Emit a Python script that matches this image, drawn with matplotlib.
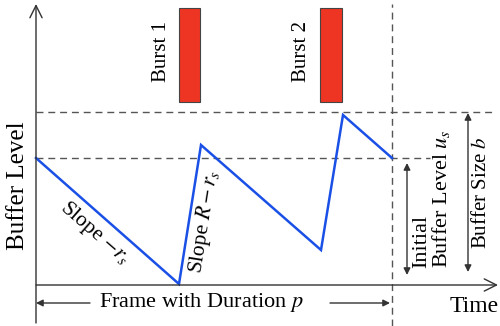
import matplotlib
matplotlib.use("Agg")
import matplotlib.pyplot as plt
from matplotlib.patches import Rectangle

plt.rcParams['font.family'] = ['Liberation Serif', 'DejaVu Serif']
plt.rcParams['mathtext.fontset'] = 'stix'

# buffer trajectory over one frame (time, buffer level)
times = [0, 143, 165, 285, 307, 356]
levels = [127, 1, 140, 35, 170, 127]

# burst intervals (start, end) and their drawn height range
bursts = [(143, 164), (284, 306)]
burst_labels = ["Burst 1", "Burst 2"]
burst_low, burst_high = 183, 277

u_s = 127     # initial buffer level
b = 173       # buffer size
p = 356       # frame duration

fig = plt.figure(figsize=(5.0, 3.26), dpi=100)
ax = fig.add_axes([0, 0, 1, 1])
ax.set_xlim(-36, 464)
ax.set_ylim(-41, 285)
ax.axis('off')

axis_col = '#333333'
dash_col = '#555555'

# axes with open arrow heads
ax.annotate('', xy=(0, 281), xytext=(0, -38),
            arrowprops=dict(arrowstyle='->', color=axis_col, lw=1.0,
                            mutation_scale=22, shrinkA=0, shrinkB=0))
ax.annotate('', xy=(462, 0), xytext=(0, 0),
            arrowprops=dict(arrowstyle='->', color=axis_col, lw=1.0,
                            mutation_scale=22, shrinkA=0, shrinkB=0))

# dashed reference lines
ax.plot([0, 394], [u_s, u_s], color=dash_col, lw=1.0, dashes=(5, 3.5))
ax.plot([0, 456], [b, b], color=dash_col, lw=1.0, dashes=(5, 3.5))
ax.plot([p, p], [-41, 281], color=dash_col, lw=1.0, dashes=(5, 3.5))

# buffer level
ax.plot(times, levels, color='#1a50e6', lw=1.8, solid_joinstyle='miter')

# bursts
for (t0, t1), lab in zip(bursts, burst_labels):
    ax.add_patch(Rectangle((t0, burst_low), t1 - t0, burst_high - burst_low,
                           facecolor='#ee3524', edgecolor='#444444', lw=0.8))
    ax.text(t0 - 18, (burst_low + burst_high) / 2 + 3, lab, rotation=90,
            ha='center', va='center', fontsize=15)

# level arrows on the right
ax.annotate('', xy=(371, u_s - 5), xytext=(371, 10),
            arrowprops=dict(arrowstyle='<|-|>', color=axis_col, lw=1.0,
                            mutation_scale=10, shrinkA=0, shrinkB=0))
ax.annotate('', xy=(432, b - 1), xytext=(432, 13),
            arrowprops=dict(arrowstyle='<|-|>', color=axis_col, lw=1.0,
                            mutation_scale=10, shrinkA=0, shrinkB=0))

# frame duration arrows
ax.annotate('', xy=(0, -18), xytext=(54, -18),
            arrowprops=dict(arrowstyle='-|>', color=axis_col, lw=1.0,
                            mutation_scale=10, shrinkA=0, shrinkB=0))
ax.annotate('', xy=(p - 2, -18), xytext=(294, -18),
            arrowprops=dict(arrowstyle='-|>', color=axis_col, lw=1.0,
                            mutation_scale=10, shrinkA=0, shrinkB=0))

# labels
ax.text(-18, 99, "Buffer Level", rotation=90, ha='center', va='center',
        fontsize=18)
ax.text(438, -21, "Time", ha='center', va='center', fontsize=17)
ax.text(165, -18, "Frame with Duration $p$", ha='center', va='center',
        fontsize=16)
ax.text(59, 52, "Slope $-r_s$", rotation=-41, rotation_mode='anchor',
        ha='center', va='center', fontsize=15.5)
ax.text(168, 63, "Slope $R-r_s$", rotation=81, rotation_mode='anchor',
        ha='center', va='center', fontsize=15.5)
ax.text(396, 17, "Initial\nBuffer Level $u_s$", rotation=90,
        rotation_mode='anchor', ha='left', va='center', fontsize=16,
        linespacing=0.95)
ax.text(446, 36, "Buffer Size $b$", rotation=90, rotation_mode='anchor',
        ha='left', va='center', fontsize=15)

fig.savefig("out.png", dpi=100)
